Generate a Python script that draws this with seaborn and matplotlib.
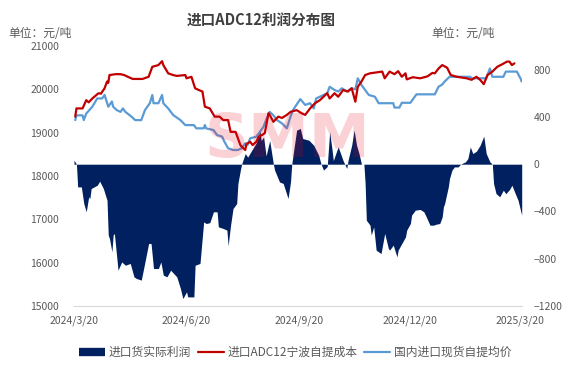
import matplotlib
matplotlib.use('Agg')
import matplotlib.pyplot as plt
from matplotlib.lines import Line2D
import seaborn as sns
import pandas as pd

# 进口货实际利润 (右轴, 元/吨)
profit_dates = ['2024-03-20', '2024-03-22', '2024-03-23', '2024-03-26', '2024-03-28', '2024-03-30', '2024-04-01',
                '2024-04-02', '2024-04-03', '2024-04-08', '2024-04-10', '2024-04-13', '2024-04-16', '2024-04-17',
                '2024-04-18', '2024-04-20', '2024-04-21', '2024-04-22', '2024-04-25', '2024-04-28', '2024-05-01',
                '2024-05-05', '2024-05-08', '2024-05-10', '2024-05-14', '2024-05-17', '2024-05-20', '2024-05-22',
                '2024-05-24', '2024-05-28', '2024-05-30', '2024-06-01', '2024-06-04', '2024-06-07', '2024-06-12',
                '2024-06-15', '2024-06-17', '2024-06-20', '2024-06-21', '2024-06-26', '2024-06-27', '2024-07-01',
                '2024-07-04', '2024-07-06', '2024-07-09', '2024-07-12', '2024-07-15', '2024-07-16', '2024-07-20',
                '2024-07-23', '2024-07-24', '2024-07-26', '2024-07-28', '2024-07-31', '2024-08-01', '2024-08-03',
                '2024-08-04', '2024-08-07', '2024-08-09', '2024-08-14', '2024-08-16', '2024-08-19', '2024-08-20',
                '2024-08-22', '2024-08-24', '2024-08-27', '2024-08-30', '2024-08-31', '2024-09-04', '2024-09-07',
                '2024-09-11', '2024-09-13', '2024-09-14', '2024-09-18', '2024-09-21', '2024-09-23', '2024-09-28',
                '2024-10-02', '2024-10-06', '2024-10-08', '2024-10-10', '2024-10-13', '2024-10-15', '2024-10-17',
                '2024-10-18', '2024-10-21', '2024-10-22', '2024-10-26', '2024-10-29', '2024-10-30', '2024-11-02',
                '2024-11-04', '2024-11-06', '2024-11-08', '2024-11-10', '2024-11-12', '2024-11-13', '2024-11-14',
                '2024-11-17', '2024-11-18', '2024-11-20', '2024-11-22', '2024-11-24', '2024-11-26', '2024-11-29',
                '2024-12-02', '2024-12-03', '2024-12-06', '2024-12-09', '2024-12-10', '2024-12-13', '2024-12-16',
                '2024-12-17', '2024-12-20', '2024-12-21', '2024-12-24', '2024-12-28', '2024-12-31', '2025-01-02',
                '2025-01-05', '2025-01-08', '2025-01-10', '2025-01-13', '2025-01-15', '2025-01-16', '2025-01-17',
                '2025-01-20', '2025-01-21', '2025-01-23', '2025-01-25', '2025-01-28', '2025-01-30', '2025-02-03',
                '2025-02-05', '2025-02-07', '2025-02-09', '2025-02-12', '2025-02-15', '2025-02-18', '2025-02-20',
                '2025-02-23', '2025-02-25', '2025-02-26', '2025-02-28', '2025-03-03', '2025-03-06', '2025-03-08',
                '2025-03-11', '2025-03-13', '2025-03-15', '2025-03-18', '2025-03-21']
profit = [34, 0, -192, -192, -333, -403, -277,
          -290, -206, -178, -144, -206, -305, -600,
          -629, -742, -600, -586, -897, -827, -855,
          -840, -953, -967, -981, -827, -671, -671,
          -883, -883, -827, -939, -953, -897, -953,
          -1052, -1137, -1080, -1123, -1123, -855, -840,
          -488, -502, -495, -403, -403, -530, -544,
          -558, -690, -516, -375, -333, -163, -50,
          0, 90, 60, 146, 180, 288, 200,
          230, 70, 200, 0, -50, -150, -163,
          -290, -150, 0, 288, 302, 217, 203,
          160, 76, 0, -50, -20, 273, 120,
          30, 120, 146, 30, -36, 30, 160,
          288, 160, 90, 0, 0, -163, -474,
          -516, -600, -530, -727, -742, -756, -586,
          -713, -727, -685, -784, -727, -671, -615,
          -558, -502, -431, -389, -383, -403, -446,
          -516, -516, -508, -502, -446, -361, -333,
          -192, -121, -50, -23, -23, 0, 20,
          48, 146, 90, 110, 160, 237, 90,
          20, 0, -163, -248, -276, -220, -250,
          -215, -178, -230, -305, -431]

# 进口ADC12宁波自提成本 (左轴)
cost_dates = ['2024-03-21', '2024-03-22', '2024-03-27', '2024-03-30', '2024-04-01', '2024-04-04', '2024-04-09',
              '2024-04-11', '2024-04-14', '2024-04-16', '2024-04-17', '2024-04-18', '2024-04-23', '2024-04-27',
              '2024-04-30', '2024-05-03', '2024-05-07', '2024-05-11', '2024-05-15', '2024-05-20', '2024-05-23',
              '2024-05-28', '2024-05-31', '2024-06-01', '2024-06-05', '2024-06-09', '2024-06-12', '2024-06-19',
              '2024-06-20', '2024-06-24', '2024-06-27', '2024-06-30', '2024-07-03', '2024-07-05', '2024-07-09',
              '2024-07-13', '2024-07-17', '2024-07-20', '2024-07-24', '2024-07-26', '2024-07-30', '2024-07-31',
              '2024-08-03', '2024-08-04', '2024-08-07', '2024-08-08', '2024-08-11', '2024-08-13', '2024-08-16',
              '2024-08-18', '2024-08-21', '2024-08-23', '2024-08-26', '2024-08-27', '2024-08-30', '2024-09-03',
              '2024-09-06', '2024-09-10', '2024-09-13', '2024-09-18', '2024-09-22', '2024-09-25', '2024-09-29',
              '2024-10-03', '2024-10-07', '2024-10-10', '2024-10-13', '2024-10-15', '2024-10-19', '2024-10-22',
              '2024-10-26', '2024-10-30', '2024-11-02', '2024-11-05', '2024-11-07', '2024-11-10', '2024-11-13',
              '2024-11-17', '2024-11-22', '2024-11-27', '2024-11-29', '2024-12-03', '2024-12-07', '2024-12-10',
              '2024-12-13', '2024-12-16', '2024-12-17', '2024-12-22', '2024-12-28', '2025-01-03', '2025-01-07',
              '2025-01-09', '2025-01-12', '2025-01-15', '2025-01-19', '2025-01-22', '2025-01-27', '2025-02-04',
              '2025-02-08', '2025-02-12', '2025-02-15', '2025-02-18', '2025-02-21', '2025-02-25', '2025-03-01',
              '2025-03-05', '2025-03-09', '2025-03-11', '2025-03-13', '2025-03-15']
cost = [19370, 19560, 19560, 19750, 19700, 19790, 19910,
        19900, 20025, 20180, 20150, 20330, 20350, 20350,
        20330, 20290, 20240, 20240, 20240, 20290, 20520,
        20560, 20650, 20560, 20370, 20330, 20310, 20330,
        20255, 20290, 20025, 19985, 19950, 19600, 19560,
        19370, 19370, 19290, 19290, 19020, 19020, 18950,
        18715, 18680, 18600, 18740, 18790, 18715, 18790,
        18907, 18950, 18990, 19450, 19410, 19250, 19370,
        19340, 19410, 19480, 19520, 19450, 19410, 19560,
        19680, 19750, 19830, 19910, 19790, 19910, 19830,
        19985, 19950, 20025, 19715, 20060, 20180, 20330,
        20370, 20390, 20410, 20255, 20410, 20350, 20420,
        20290, 20370, 20230, 20280, 20255, 20300, 20380,
        20370, 20480, 20560, 20500, 20330, 20290, 20255,
        20220, 20290, 20220, 20120, 20330, 20410, 20520,
        20578, 20640, 20640, 20560, 20600]

# 国内进口现货自提均价 (左轴)
spot_dates = ['2024-03-21', '2024-03-22', '2024-03-27', '2024-03-28', '2024-03-30', '2024-04-04', '2024-04-08',
              '2024-04-12', '2024-04-14', '2024-04-17', '2024-04-20', '2024-04-21', '2024-04-24', '2024-04-27',
              '2024-04-29', '2024-05-01', '2024-05-06', '2024-05-09', '2024-05-14', '2024-05-17', '2024-05-21',
              '2024-05-23', '2024-05-24', '2024-05-28', '2024-05-31', '2024-06-01', '2024-06-05', '2024-06-09',
              '2024-06-15', '2024-06-19', '2024-06-26', '2024-06-28', '2024-07-04', '2024-07-05', '2024-07-06',
              '2024-07-12', '2024-07-15', '2024-07-19', '2024-07-21', '2024-07-24', '2024-07-28', '2024-08-01',
              '2024-08-04', '2024-08-07', '2024-08-09', '2024-08-11', '2024-08-16', '2024-08-19', '2024-08-22',
              '2024-08-24', '2024-08-27', '2024-08-30', '2024-09-02', '2024-09-06', '2024-09-10', '2024-09-13',
              '2024-09-15', '2024-09-21', '2024-09-25', '2024-09-29', '2024-10-02', '2024-10-04', '2024-10-07',
              '2024-10-13', '2024-10-15', '2024-10-19', '2024-10-22', '2024-10-25', '2024-10-29', '2024-11-02',
              '2024-11-05', '2024-11-07', '2024-11-10', '2024-11-13', '2024-11-16', '2024-11-21', '2024-11-24',
              '2024-12-06', '2024-12-07', '2024-12-11', '2024-12-13', '2024-12-20', '2024-12-22', '2024-12-25',
              '2025-01-09', '2025-01-12', '2025-01-15', '2025-01-17', '2025-01-21', '2025-02-07', '2025-02-08',
              '2025-02-20', '2025-02-23', '2025-02-25', '2025-03-06', '2025-03-08', '2025-03-17', '2025-03-20',
              '2025-03-21']
spot = [19290, 19400, 19400, 19290, 19440, 19600, 19790,
        19790, 19870, 19600, 19720, 19600, 19520, 19480,
        19560, 19480, 19370, 19290, 19290, 19520, 19680,
        19870, 19680, 19680, 19870, 19680, 19560, 19410,
        19290, 19175, 19175, 19100, 19100, 19175, 19100,
        19060, 18945, 18910, 18790, 18640, 18600, 18600,
        18640, 18755, 18720, 18870, 18907, 19020, 19140,
        19290, 19480, 19400, 19290, 19215, 19100, 19370,
        19520, 19775, 19640, 19680, 19560, 19790, 19830,
        19910, 20060, 19985, 19950, 20025, 19950, 20025,
        20000, 20255, 20100, 19985, 19870, 19830, 19680,
        19680, 19580, 19580, 19690, 19690, 19770, 19885,
        19885, 20060, 20110, 20180, 20290, 20290, 20255,
        20255, 20480, 20290, 20290, 20410, 20410, 20255,
        20180]

x_ticks = ['2024-03-20', '2024-06-20', '2024-09-20', '2024-12-20', '2025-03-20']
x_tick_labels = ['2024/3/20', '2024/6/20', '2024/9/20', '2024/12/20', '2025/3/20']
left_ticks = [15000, 16000, 17000, 18000, 19000, 20000, 21000]
right_ticks = [-1200, -800, -400, 0, 400, 800]

navy = '#002060'
red = '#c00000'
blue = '#5b9bd5'
grey = '#595959'

sns.set_style('white')
plt.rcParams['font.family'] = ['Noto Sans CJK SC', 'DejaVu Sans']

fig = plt.figure(figsize=(5.75, 3.9), dpi=100)
ax = fig.add_axes([0.1287, 0.2154, 0.7786, 0.6666])
ax2 = ax.twinx()

# 利润面积 (右轴)
ax.fill_between(pd.to_datetime(profit_dates), 0, profit, color=navy, linewidth=0)
ax.set_ylim(-1200, 1000)
ax.set_yticks(right_ticks)
ax.yaxis.set_ticks_position('right')
ax.tick_params(axis='y', length=0, pad=8.6, labelsize=7.5, labelcolor=grey)

# 成本与均价 (左轴)
cost_df = pd.DataFrame({'date': pd.to_datetime(cost_dates), 'value': cost})
spot_df = pd.DataFrame({'date': pd.to_datetime(spot_dates), 'value': spot})
sns.lineplot(data=spot_df, x='date', y='value', ax=ax2, color=blue, linewidth=1.6)
sns.lineplot(data=cost_df, x='date', y='value', ax=ax2, color=red, linewidth=1.6)
ax2.set_ylim(15000, 21000)
ax2.set_yticks(left_ticks)
ax2.yaxis.set_ticks_position('left')
ax2.tick_params(axis='y', length=0, pad=10.8, labelsize=7.5, labelcolor=grey)
ax2.set_xlabel('')
ax2.set_ylabel('')
ax.set_ylabel('')

ax.set_xlim(pd.Timestamp('2024-03-20'), pd.Timestamp('2025-03-21'))
ax.set_xticks(pd.to_datetime(x_ticks))
ax.set_xticklabels(x_tick_labels)
ax.tick_params(axis='x', length=4, width=0.8, color='#d9d9d9', direction='out',
               pad=3, labelsize=7.5, labelcolor=grey)

for a in (ax, ax2):
    for s in ('top', 'left', 'right', 'bottom'):
        a.spines[s].set_visible(False)
ax.spines['bottom'].set_visible(True)
ax.spines['bottom'].set_color('#d9d9d9')

# 标题与单位
fig.text(0.454, 0.946, '进口ADC12利润分布图', ha='center', va='center',
         fontsize=10.5, fontweight='bold', color='#404040')
fig.text(0.014, 0.915, '单位：元/吨', ha='left', va='center', fontsize=8.5, color=grey)
fig.text(0.751, 0.915, '单位：元/吨', ha='left', va='center', fontsize=8.5, color=grey)

# 水印
fig.text(0.5, 0.64, 'SMM', ha='center', va='center', fontsize=44, fontweight='heavy',
         family='DejaVu Sans', color='#e8001a', alpha=0.18)

handles = [Line2D([0], [0], color=navy, linewidth=6, solid_capstyle='butt'),
           Line2D([0], [0], color=red, linewidth=1.6),
           Line2D([0], [0], color=blue, linewidth=1.6)]
labels = ['进口货实际利润', '进口ADC12宁波自提成本', '国内进口现货自提均价']
leg = fig.legend(handles, labels, loc='center', bbox_to_anchor=(0.513, 0.097), ncol=3,
                 frameon=False, fontsize=8.5, handlelength=2.2, handletextpad=0.3,
                 columnspacing=0.6)
for t in leg.get_texts():
    t.set_color(grey)

fig.savefig('out.png', dpi=100)
